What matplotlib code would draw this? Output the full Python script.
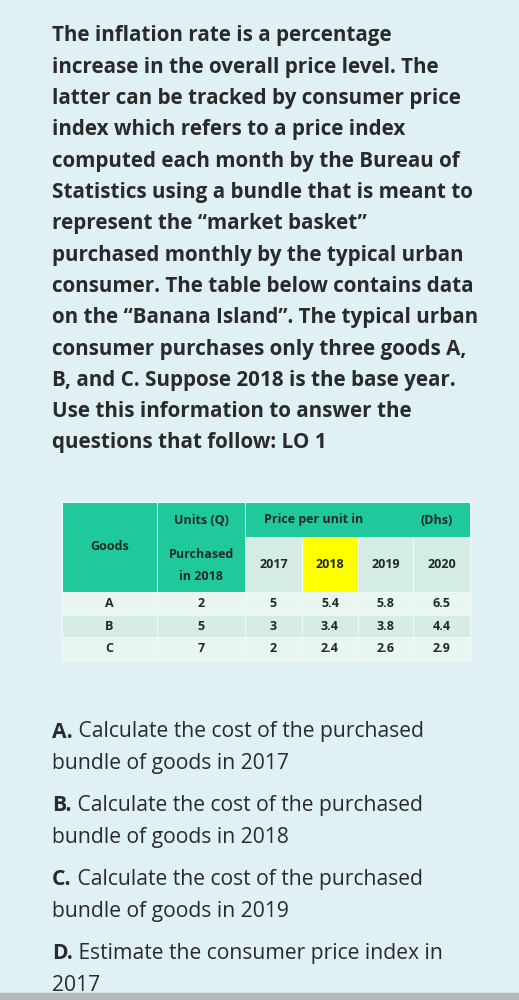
import matplotlib
matplotlib.use("Agg")
import matplotlib.pyplot as plt
from matplotlib.patches import Rectangle

intro = ["The inflation rate is a percentage",
         "increase in the overall price level. The",
         "latter can be tracked by consumer price",
         "index which refers to a price index",
         "computed each month by the Bureau of",
         "Statistics using a bundle that is meant to",
         "represent the \u201cmarket basket\u201d",
         "purchased monthly by the typical urban",
         "consumer. The table below contains data",
         "on the \u201cBanana Island\u201d. The typical urban",
         "consumer purchases only three goods A,",
         "B, and C. Suppose 2018 is the base year.",
         "Use this information to answer the",
         "questions that follow: LO 1"]
goods = ["A", "B", "C"]
units = ["2", "5", "7"]
years = ["2017", "2018", "2019", "2020"]
prices = [["5", "5.4", "5.8", "6.5"],
          ["3", "3.4", "3.8", "4.4"],
          ["2", "2.4", "2.6", "2.9"]]
questions = [("A.", " Calculate the cost of the purchased", "bundle of goods in 2017"),
             ("B.", " Calculate the cost of the purchased", "bundle of goods in 2018"),
             ("C.", " Calculate the cost of the purchased", "bundle of goods in 2019"),
             ("D.", " Estimate the consumer price index in", "2017")]

fig = plt.figure(figsize=(5.19, 10), dpi=100)
fig.patch.set_facecolor("#e0f1f6")
ax = fig.add_axes([0, 0, 1, 1])
ax.set_xlim(0, 519); ax.set_ylim(1000, 0); ax.axis("off")
ax.add_patch(Rectangle((0, 993), 519, 7, color="#b5b9bb"))

fam = ["Open Sans", "DejaVu Sans"]
for i, line in enumerate(intro):
    ax.text(52, 36 + i * 31.3, line, fontsize=14.9, fontweight="bold", color="#2a2a2a",
            family=fam, va="center")

cols = [62, 157, 245, 302, 358, 413, 470]
rows = [502, 537, 592, 615, 637, 660]
green = "#1fc99b"
ax.add_patch(Rectangle((cols[0], rows[0]), cols[6] - cols[0], rows[5] - rows[0], color="#f2faf6"))
def cell(x0, x1, y0, y1, c):
    ax.add_patch(Rectangle((x0 + 0.5, y0 + 0.5), x1 - x0 - 1, y1 - y0 - 1, color=c, lw=0))
cell(cols[0], cols[1], rows[0], rows[2], green)
cell(cols[1], cols[2], rows[0], rows[2], green)
cell(cols[2], cols[6], rows[0], rows[1], green)
for j, y in enumerate(years):
    cell(cols[2 + j], cols[3 + j], rows[1], rows[2], "#ffff00" if y == "2018" else "#d4ece3")
tk = dict(fontsize=9, fontweight="bold", color="#1e2a25", family=fam, ha="center", va="center")
ax.text((cols[0] + cols[1]) / 2, 547, "Goods", **tk)
ax.text((cols[1] + cols[2]) / 2, 520, "Units (Q)", **tk)
ax.text((cols[1] + cols[2]) / 2, 555, "Purchased", **tk)
ax.text((cols[1] + cols[2]) / 2, 577, "in 2018", **tk)
ax.text(314, 520, "Price per unit in", **tk)
ax.text(437, 520, "(Dhs)", **tk)
for j, y in enumerate(years):
    ax.text((cols[2 + j] + cols[3 + j]) / 2, 565, y, **tk)
for i, g in enumerate(goods):
    c = "#d6ede3" if i == 1 else "#e9f5ef"
    y0, y1 = rows[2 + i], rows[3 + i]
    vals = [g, units[i]] + prices[i]
    for j, v in enumerate(vals):
        cell(cols[j], cols[j + 1], y0, y1, c)
        ax.text((cols[j] + cols[j + 1]) / 2, (y0 + y1) / 2, v, **tk)

for i, (lab, l1, l2) in enumerate(questions):
    y = 732 + i * 73.7
    t = ax.text(52, y, lab, fontsize=15.2, fontweight="bold", color="#2a2a2a", family=fam, va="center")
    ax.annotate(l1, xycoords=t, xy=(1, 0.5), va="center", fontsize=15.2, color="#2a2a2a", family=fam)
    ax.text(52, y + 32, l2, fontsize=15.2, color="#2a2a2a", family=fam, va="center")

fig.savefig("out.png", dpi=100, facecolor=fig.get_facecolor())
